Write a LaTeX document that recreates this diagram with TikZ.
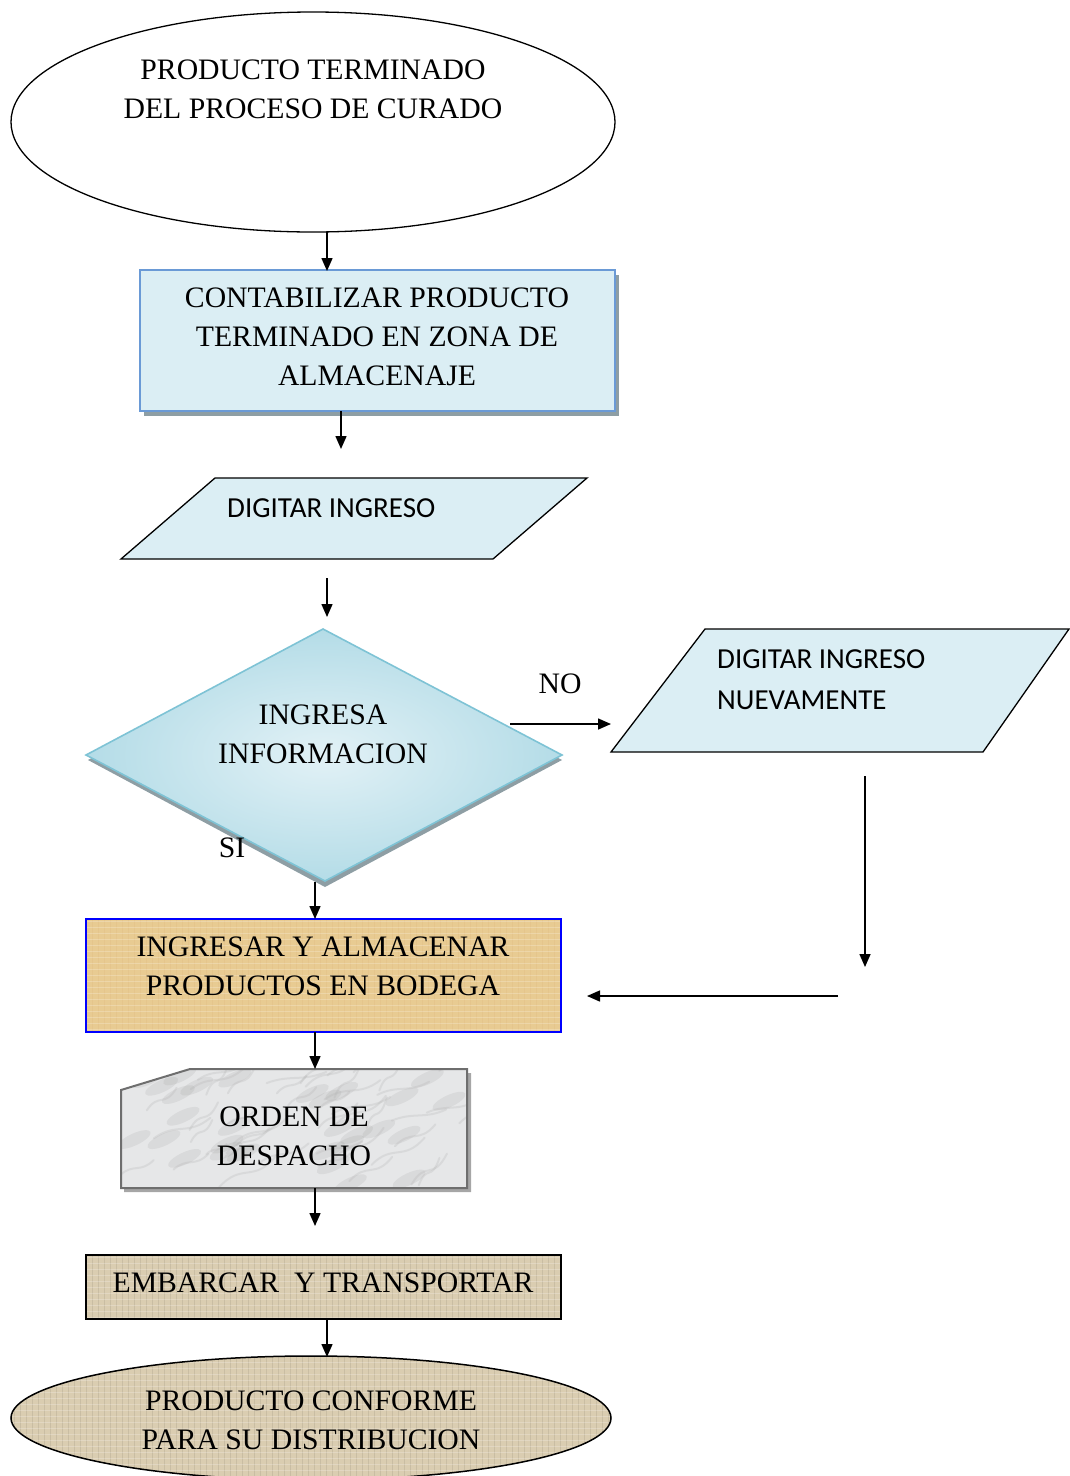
\documentclass[tikz,border=0pt]{standalone}
\usepackage{fontspec}
\setmainfont{Liberation Serif}
\newfontfamily\carlitofont{Carlito}
\usetikzlibrary{arrows.meta}

\definecolor{paleblue}{HTML}{DBEEF4}
\definecolor{boxblue}{HTML}{6A9AD6}
\definecolor{diaedge}{HTML}{7EC3D5}
\definecolor{diadark}{HTML}{B4DCE7}
\definecolor{shadowgray}{HTML}{8E9EA4}
\definecolor{goldfill}{HTML}{E8CB92}
\definecolor{tanfill}{HTML}{DACDB1}
\definecolor{marble}{HTML}{E6E7E8}
\definecolor{cardedge}{HTML}{6E6E6E}

\tikzset{
  txt/.style={font=\fontsize{29.7}{39}\selectfont, align=center, inner sep=0pt},
  sanstxt/.style={font=\carlitofont\fontsize{29}{41}\selectfont, align=left, inner sep=0pt},
  arr/.style={line width=1.5pt, -{Triangle[length=13pt,width=11pt]}},
  outline/.style={line width=1.3pt},
  weave/.style={line width=0.5pt, opacity=0.22},
}

\begin{document}
\begin{tikzpicture}[x=1pt,y=-1pt]
\useasboundingbox (0,0) rectangle (1069,1476);

% start terminal
\draw[outline, fill=white] (313,122) ellipse [x radius=302, y radius=110];
\node[txt] (start) at (313,89) {PRODUCTO TERMINADO\\DEL PROCESO DE CURADO};

% counting step with drop shadow
\fill[shadowgray] (144,275) rectangle (619,416);
\draw[boxblue, line width=2pt, fill=paleblue] (140,270) rectangle (615,411);
\node[txt] (count) at (377,337) {CONTABILIZAR PRODUCTO\\TERMINADO EN ZONA DE\\ALMACENAJE};

% data entry
\draw[outline, fill=paleblue] (215,478) -- (587,478) -- (493,559) -- (121,559) -- cycle;
\node[sanstxt, anchor=west] (entry) at (227,508) {DIGITAR INGRESO};

% decision
\fill[shadowgray] (88,760) -- (323,634) -- (562,760) -- (325,887) -- cycle;
\draw[diaedge, line width=1.6pt, inner color=paleblue!80!white, outer color=diadark]
  (323,629) -- (562,755) -- (325,881) -- (86,755) -- cycle;
\node[txt] (decide) at (323,734) {INGRESA\\INFORMACION};
\node[txt] (nolabel) at (560,684) {NO};
\node[txt] (silabel) at (232,848) {SI};

% re-entry
\draw[outline, fill=paleblue] (705,629) -- (1069,629) -- (983,752) -- (611,752) -- cycle;
\node[sanstxt, anchor=west] (reentry) at (717,680) {DIGITAR INGRESO\\NUEVAMENTE};

% storage step
\begin{scope}
  \clip (86,919) rectangle (561,1032);
  \fill[goldfill] (86,919) rectangle (561,1032);
  \foreach \i in {0,...,80} {
    \draw[weave, goldfill!70!brown] (86+6*\i,919) -- (86+6*\i,1032);
  }
  \foreach \j in {0,...,19} {
    \draw[weave, white] (86,921+6*\j) -- (561,921+6*\j);
  }
\end{scope}
\draw[blue, line width=1.5pt] (86,919) rectangle (561,1032);
\node[txt] (store) at (323,966) {INGRESAR Y ALMACENAR\\PRODUCTOS EN BODEGA};

% dispatch order card
\fill[gray!70] (124,1094) -- (193,1073) -- (471,1073) -- (471,1192) -- (124,1192) -- cycle;
\begin{scope}
  \clip (190,1069) -- (467,1069) -- (467,1188) -- (121,1188) -- (121,1090) -- cycle;
  \fill[marble] (100,1060) rectangle (480,1200);
  \pgfmathsetseed{11}
  \foreach \k in {1,...,30} {
    \pgfmathsetmacro{\px}{120+350*rnd}
    \pgfmathsetmacro{\py}{1070+120*rnd}
    \fill[gray, opacity=0.12, rotate around={25:(\px,\py)}] (\px,\py) ellipse [x radius=18, y radius=6];
  }
  \foreach \k in {1,...,45} {
    \pgfmathsetmacro{\px}{120+350*rnd}
    \pgfmathsetmacro{\py}{1070+120*rnd}
    \pgfmathsetmacro{\dx}{20+40*rnd}
    \pgfmathsetmacro{\dy}{-10-25*rnd}
    \draw[gray!60, line width=2pt, opacity=0.25, line cap=round]
      (\px,\py) .. controls (\px+0.4*\dx,\py+0.8*\dy) and (\px+0.6*\dx,\py+0.1*\dy) .. (\px+\dx,\py+\dy);
  }
\end{scope}
\draw[cardedge, line width=2pt] (190,1069) -- (467,1069) -- (467,1188) -- (121,1188) -- (121,1090) -- cycle;
\node[txt] (order) at (294,1136) {ORDEN DE\\DESPACHO};

% shipping step
\begin{scope}
  \clip (86,1255) rectangle (561,1319);
  \fill[tanfill] (86,1255) rectangle (561,1319);
  \foreach \i in {0,...,80} {
    \draw[weave, tanfill!65!black] (86+6*\i,1255) -- (86+6*\i,1319);
  }
  \foreach \j in {0,...,11} {
    \draw[weave, white] (86,1257+6*\j) -- (561,1257+6*\j);
  }
\end{scope}
\draw[line width=1.5pt] (86,1255) rectangle (561,1319);
\node[txt] (ship) at (323,1283) {EMBARCAR\ \ Y TRANSPORTAR};

% end terminal
\begin{scope}
  \clip (311,1418) ellipse [x radius=300, y radius=62];
  \fill[tanfill] (0,1350) rectangle (620,1480);
  \foreach \i in {0,...,102} {
    \draw[weave, tanfill!65!black] (8+6*\i,1350) -- (8+6*\i,1480);
  }
  \foreach \j in {0,...,21} {
    \draw[weave, white] (0,1356+6*\j) -- (620,1356+6*\j);
  }
\end{scope}
\draw[line width=1.5pt] (311,1418) ellipse [x radius=300, y radius=62];
\node[txt] (finish) at (311,1420) {PRODUCTO CONFORME\\PARA SU DISTRIBUCION};

% connector end points
\coordinate (c1a) at (327,232);  \coordinate (c1b) at (327,271);
\coordinate (c2a) at (341,411);  \coordinate (c2b) at (341,449);
\coordinate (c3a) at (327,578);  \coordinate (c3b) at (327,617);
\coordinate (c4a) at (510,724);  \coordinate (c4b) at (611,724);
\coordinate (c5a) at (865,776);  \coordinate (c5b) at (865,967);
\coordinate (c6a) at (838,996);  \coordinate (c6b) at (587,996);
\coordinate (c7a) at (315,882);  \coordinate (c7b) at (315,919);
\coordinate (c8a) at (315,1032); \coordinate (c8b) at (315,1069);
\coordinate (c9a) at (315,1188); \coordinate (c9b) at (315,1226);
\coordinate (c10a) at (327,1319); \coordinate (c10b) at (327,1357);

\foreach \n in {1,...,10} {
  \draw[arr] (c\n a) -- (c\n b);
}
\end{tikzpicture}
\end{document}
